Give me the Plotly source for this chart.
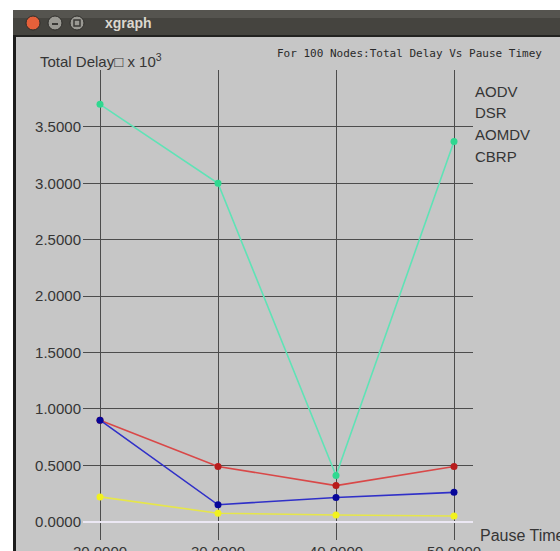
import plotly.graph_objects as go

# Pause time (x) and total delay (x 10^3) for each routing protocol
pause_time = [20, 30, 40, 50]
aodv = [0.90, 0.49, 0.32, 0.49]
dsr = [3.70, 3.00, 0.41, 3.37]
aomdv = [0.90, 0.15, 0.215, 0.26]
cbrp = [0.22, 0.075, 0.06, 0.05]

series_names = ["AODV", "DSR", "AOMDV", "CBRP"]
y_ticks = [0.0, 0.5, 1.0, 1.5, 2.0, 2.5, 3.0, 3.5]
x_tick_text = ["20.0000", "30.0000", "40.0000", "50.0000"]

W, H = 560, 551
L, R, T, B = 83, 87, 70, 11
PW, PH = W - L - R, H - T - B


def px(x):
    return (x - L) / PW


def py(y):
    return (H - B - y) / PH


BG = "#c6c6c6"
GRID = "#4c4c4c"
TXT = "#353535"

fig = go.Figure()

styles = [
    ("#d94848", "#b81c1c"),
    ("#5fe3b6", "#2fd890"),
    ("#3030c8", "#06069a"),
    ("#e6e64a", "#f2f21e"),
]
for name, vals, (lc, mc) in zip(series_names, [aodv, dsr, aomdv, cbrp], styles):
    fig.add_trace(go.Scatter(
        x=pause_time, y=vals, name=name, mode="lines+markers",
        line=dict(color=lc, width=1.6),
        marker=dict(color=mc, size=7),
        cliponaxis=False, showlegend=False,
    ))

fig.update_layout(
    width=W, height=H,
    margin=dict(l=L, r=R, t=T, b=B, pad=0, autoexpand=False),
    paper_bgcolor=BG, plot_bgcolor=BG,
    font=dict(family="Liberation Sans, Arial, sans-serif", color=TXT, size=15),
    xaxis=dict(
        range=[20 - 17 / 11.8, 20 + 373 / 11.8],
        tickvals=pause_time, ticktext=x_tick_text,
        showgrid=True, gridcolor=GRID, gridwidth=1,
        zeroline=False, showline=False, ticks="",
        ticklabelstandoff=1, automargin=False,
        tickfont=dict(size=15, color=TXT),
    ),
    yaxis=dict(
        range=[-(540 - 521.7) / 112.8, (521.7 - 70) / 112.8],
        tickvals=y_ticks, tickformat=".4f",
        showgrid=True, gridcolor=GRID, gridwidth=1,
        zeroline=True, zerolinecolor="#ece8f4", zerolinewidth=2,
        showline=False, ticks="", ticklabelstandoff=1, automargin=False,
        tickfont=dict(size=15, color=TXT),
    ),
)

shapes = []
# window frame
shapes.append(dict(type="rect", xref="paper", yref="paper",
                   x0=px(0), x1=px(W), y0=py(0), y1=py(10),
                   fillcolor="white", line_width=0, layer="above"))
shapes.append(dict(type="rect", xref="paper", yref="paper",
                   x0=px(0), x1=px(13), y0=py(0), y1=py(H),
                   fillcolor="white", line_width=0, layer="above"))
shapes.append(dict(type="rect", xref="paper", yref="paper",
                   x0=px(13), x1=px(W), y0=py(10), y1=py(35),
                   fillcolor="#45443f", line_width=0, layer="above"))
shapes.append(dict(type="rect", xref="paper", yref="paper",
                   x0=px(13), x1=px(W), y0=py(10), y1=py(18),
                   fillcolor="#55544f", line_width=0, layer="above"))
shapes.append(dict(type="rect", xref="paper", yref="paper",
                   x0=px(13), x1=px(W), y0=py(35), y1=py(37),
                   fillcolor="#222220", line_width=0, layer="above"))
shapes.append(dict(type="rect", xref="paper", yref="paper",
                   x0=px(13), x1=px(16), y0=py(35), y1=py(H),
                   fillcolor="#1c1c1c", line_width=0, layer="above"))
# title bar buttons
for cx, col in [(33, "#e5603a"), (55, "#9a9993"), (77, "#9a9993")]:
    shapes.append(dict(type="circle", xref="paper", yref="paper",
                       x0=px(cx - 7), x1=px(cx + 7), y0=py(30), y1=py(16),
                       fillcolor=col, line=dict(color="#2e2d2a", width=1),
                       layer="above"))
shapes.append(dict(type="line", xref="paper", yref="paper",
                   x0=px(52), x1=px(58), y0=py(24), y1=py(24),
                   line=dict(color="#3a3936", width=2), layer="above"))
shapes.append(dict(type="rect", xref="paper", yref="paper",
                   x0=px(74), x1=px(80), y0=py(26), y1=py(20),
                   line=dict(color="#3a3936", width=1.5), layer="above"))
fig.update_layout(shapes=shapes)

ann = []
ann.append(dict(text="<b>xgraph</b>", x=px(103), y=py(23), xref="paper", yref="paper",
                xanchor="left", yanchor="middle", showarrow=False,
                font=dict(size=14, color="#dcd8cf", family="Liberation Sans, Arial, sans-serif")))
ann.append(dict(text="Total Delay\u25a1 x 10<sup>3</sup>", x=px(38), y=py(60),
                xref="paper", yref="paper", xanchor="left", yanchor="middle",
                showarrow=False, font=dict(size=15, color=TXT)))
ann.append(dict(text="For 100 Nodes:Total Delay Vs Pause Timey", x=px(275), y=py(54),
                xref="paper", yref="paper", xanchor="left", yanchor="middle",
                showarrow=False,
                font=dict(size=11, color="#2a2a2a", family="DejaVu Sans Mono, monospace")))
ann.append(dict(text="Pause Time", x=px(478), y=py(535), xref="paper", yref="paper",
                xanchor="left", yanchor="middle", showarrow=False,
                font=dict(size=16, color=TXT)))
for name, yc in zip(series_names, [91, 113, 134, 156]):
    ann.append(dict(text=name, x=px(473), y=py(yc), xref="paper", yref="paper",
                    xanchor="left", yanchor="middle", showarrow=False,
                    font=dict(size=15, color=TXT)))
fig.update_layout(annotations=ann)

fig.write_html("out.html")
